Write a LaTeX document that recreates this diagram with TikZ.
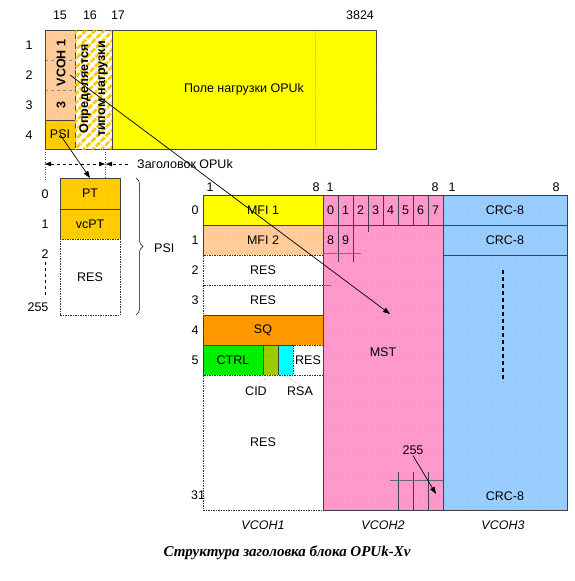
\documentclass[tikz,border=0pt]{standalone}
\usepackage{fontspec}
\setmainfont{Liberation Sans}
\newfontfamily\capfont{Liberation Serif}
\usetikzlibrary{arrows.meta,calc,positioning,patterns.meta,decorations.pathreplacing}
\definecolor{vcohfill}{HTML}{FFCC99}
\definecolor{psifill}{HTML}{FFCC00}
\definecolor{payfill}{HTML}{FFFF00}
\definecolor{sqfill}{HTML}{FF9900}
\definecolor{ctrlfill}{HTML}{00EE00}
\definecolor{cidfill}{HTML}{99CC00}
\definecolor{rsafill}{HTML}{00FFFF}
\definecolor{mstfill}{HTML}{FF99CC}
\definecolor{crcfill}{HTML}{99CCFF}
\definecolor{edge}{HTML}{404040}
\tikzset{
  cell/.style={
    draw=edge,
    line width=0.6pt,
    anchor=north west,
    inner sep=0pt,
    outer sep=0pt,
    minimum height=30pt,
    font=\fontsize{12.5}{14}\selectfont
  },
  blank/.style={fill=white, draw=black!80, dash pattern=on 1.5pt off 1pt},
  speck/.style={postaction={pattern={Dots[distance=6pt,radius=0.45pt]}, pattern color=#1}},
  speck/.default=red!55,
  hatch/.style={fill=white, postaction={pattern={Lines[angle=45,distance=6.5pt,line width=3.2pt]}, pattern color=psifill}},
  lbl/.style={font=\fontsize{12.5}{14}\selectfont, inner sep=1pt},
  vlbl/.style={font=\fontsize{12.5}{14}\selectfont\bfseries, inner sep=1pt, rotate=90},
  collbl/.style={font=\fontsize{12.5}{14}\selectfont\itshape, inner sep=1pt},
  divider/.style={draw=edge, line width=0.6pt},
  guide/.style={draw=black!70, line width=0.5pt, dotted},
  dimarrow/.style={line width=0.5pt, dashed, {Triangle[length=6pt,width=4.5pt]}-{Triangle[length=6pt,width=4.5pt]}},
  ptrarrow/.style={line width=0.7pt, -{Triangle[length=7pt,width=5pt]}}
}

\begin{document}
\begin{tikzpicture}[x=1pt,y=-1pt]
\useasboundingbox (0,0) rectangle (574,581);
\fill[white] (0,0) rectangle (574,581);

% OPUk overhead and payload
\node[cell, fill=vcohfill, speck, minimum width=30pt, minimum height=90pt] (vcoh) at (45,30) {};
\node[cell, fill=psifill, speck, minimum width=30pt, minimum height=29pt] (psi) at (45,120) {PSI};
\node[cell, hatch, minimum width=37pt, minimum height=119pt] (typecol) at (75,30) {};
\node[cell, fill=payfill, minimum width=264pt, minimum height=119pt] (payload) at (112,30) {Поле нагрузки OPUk};
\draw[dashed, draw=black!45] ($(vcoh.north west)+(0,30)$) -- ($(vcoh.north east)+(0,30)$);
\draw[dashed, draw=black!45] ($(vcoh.north west)+(0,60)$) -- ($(vcoh.north east)+(0,60)$);
\draw[densely dotted, draw=orange!60] (315,30) -- (315,149);
\draw[guide] (vcoh.north west) rectangle (payload.south east);
\node[vlbl] (vcohtxt) at (61,63) {VCOH 1};
\node[vlbl] (vcohthree) at (61,105) {3};
\node[vlbl, align=center, font=\fontsize{12.5}{17}\selectfont\bfseries] (typetxt) at (93.5,89) {Определяется\\типом нагрузки};

\foreach \n/\x in {15/60,16/90,17/118,3824/360}
  \node[lbl] (col\n) at (\x,15) {\n};
\foreach \r in {1,...,4}
  \node[lbl] (row\r) at (29,15+30*\r) {\r};

% OPUk header span
\coordinate (hdl) at (45,164);
\coordinate (hdr) at (105,164);
\coordinate (hdtail) at (128,164);
\draw[guide] (psi.south west) -- (45,180);
\draw[guide] (105,149) -- (105,178);
\draw[dimarrow] (hdl) -- (hdr);
\draw[line width=0.5pt, dashed, -{Triangle[length=6pt,width=4.5pt]}] (hdtail) -- ([xshift=1pt]hdr);
\node[lbl, anchor=west] (hdrtxt) at (136,164) {Заголовок OPUk};

% PSI structure
\node[cell, fill=psifill, speck, minimum width=60pt, minimum height=31pt] (pt) at (60,178) {PT};
\node[cell, fill=psifill, speck, minimum width=60pt] (vcpt) at (60,209) {vcPT};
\node[cell, blank, minimum width=60pt, minimum height=76pt] (psires) at (60,239) {RES};
\foreach \t/\y in {0/194,1/224,2/254}
  \node[lbl] (psirow\t) at (45,\y) {\t};
\node[lbl] (psirowlast) at (38,307) {255};
\draw[dashed, line width=0.5pt] (45,262) -- (45,298);
\draw[decorate, decoration={brace, amplitude=7pt}, line width=0.5pt] ([xshift=16pt]pt.north east) -- ([xshift=16pt]psires.south east);
\node[lbl, anchor=west] (psilbl) at (153,248) {PSI};
\draw[ptrarrow] (psi.center) -- (pt.north);

% VCOH1
\node[cell, fill=payfill, minimum width=120pt] (mfia) at (203,195) {MFI 1};
\node[cell, fill=vcohfill, speck, minimum width=120pt] (mfib) at (203,225) {MFI 2};
\node[cell, blank, minimum width=120pt] (resa) at (203,255) {RES};
\node[cell, blank, minimum width=120pt] (resb) at (203,285) {RES};
\node[cell, fill=sqfill, speck, minimum width=120pt] (sq) at (203,315) {SQ};
\node[cell, fill=ctrlfill, minimum width=60pt] (ctrl) at (203,345) {CTRL};
\node[cell, fill=cidfill, speck=yellow!70, minimum width=15pt] (cid) at (263,345) {};
\node[cell, fill=rsafill, minimum width=15pt] (rsa) at (278,345) {};
\node[cell, blank, minimum width=30pt] (resc) at (293,345) {RES};
\node[cell, blank, minimum width=120pt, minimum height=135pt] (resd) at (203,375) {RES};
\node[lbl] (cidlbl) at (256,391) {CID};
\node[lbl] (rsalbl) at (300,391) {RSA};
\draw[guide] (cid.south) -- (cidlbl.north);
\draw[guide] (rsa.south) -- (rsalbl.north);

% VCOH2
\node[cell, fill=mstfill, speck=red!70, minimum width=120pt, minimum height=315pt] (mst) at (323,195) {};
\node[lbl] (msttxt) at (383,352) {MST};
\foreach \i in {0,...,7}
  \node[lbl] (bit\i) at (330.5+15*\i,210) {\i};
\foreach \i in {1,...,7}
  \draw[divider] (323+15*\i,195) -- (323+15*\i,225);
\draw[divider] (mst.north west |- 0,225) -- (443,225);
\draw[divider] (338,225) -- (338,262);
\draw[divider] (353,225) -- (353,262);
\draw[divider] (368,225) -- (368,232);
\draw[draw=black!55, line width=0.6pt] (323,253) -- (361,253);
\draw[draw=black!55, line width=0.6pt] (323,285) -- (331,285);
\node[lbl] (biteight) at (330.5,240) {8};
\node[lbl] (bitnine) at (345.5,240) {9};
\foreach \x in {398,413,428}
  \draw[divider] (\x,472) -- (\x,510);
\draw[draw=black!60, line width=0.8pt] (390,480) -- (567,480);
\node[lbl] (lastbit) at (413,450) {255};
\coordinate (lastcell) at (436,494);
\draw[ptrarrow] (lastbit.south) -- (lastcell);

% VCOH3
\node[cell, fill=crcfill, speck=blue!45, minimum width=124pt, minimum height=315pt] (crc) at (443,195) {};
\draw[divider] (443,225) -- (567,225);
\draw[divider] (443,255) -- (567,255);
\node[lbl] (crca) at (505,210) {CRC-8};
\node[lbl] (crcb) at (505,240) {CRC-8};
\node[lbl] (crcc) at (505,496) {CRC-8};
\draw[line width=1.1pt, dash pattern=on 4pt off 3pt] (503,270) -- (503,382);

% row and column numbers
\foreach \t/\x in {1/210,8/316,1/330,8/435,1/452,8/556}
  \node[lbl] at (\x,187) {\t};
\foreach \r in {0,...,5}
  \node[lbl] (vrow\r) at (195,210+30*\r) {\r};
\node[lbl] (vrowlast) at (198,495) {31};

\node[collbl] (vcohone) at (263,525) {VCOH1};
\node[collbl] (vcohtwo) at (383,525) {VCOH2};
\node[collbl] (vcohthree) at (503,525) {VCOH3};

% pointer from OPUk overhead to MST
\coordinate (mstin) at (390,314);
\draw[ptrarrow] ([xshift=10pt]vcoh.center) -- (mstin);

\node[font=\capfont\fontsize{15}{17}\selectfont\bfseries\itshape] (caption) at (287,553) {Структура заголовка блока OPUk-Xv};
\end{tikzpicture}
\end{document}
